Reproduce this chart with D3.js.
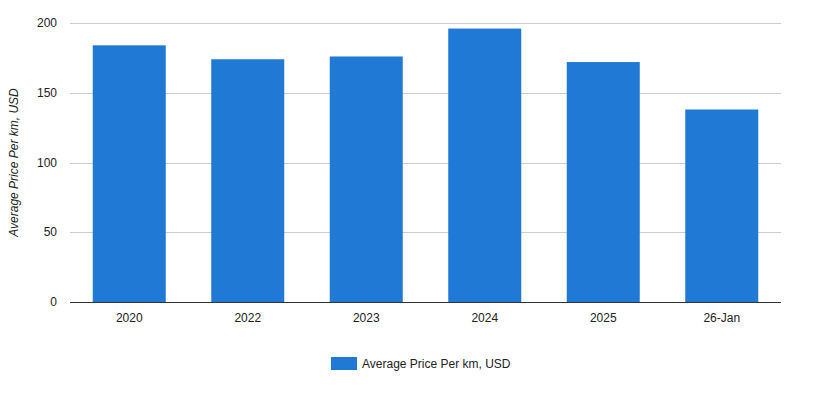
<!DOCTYPE html>
<html>
<head>
<meta charset="utf-8">
<script src="https://cdn.jsdelivr.net/npm/d3@7"></script>
<style>
  body { margin: 0; background: #fff; }
  svg { font-family: "Liberation Sans", Arial, sans-serif; }
</style>
</head>
<body>
<svg id="chart" width="825" height="393"></svg>
<script>
// chart data
var categories = ["2020", "2022", "2023", "2024", "2025", "26-Jan"];
var prices = [184, 174, 176, 196, 172, 138];
var yTicks = [0, 50, 100, 150, 200];
var seriesName = "Average Price Per km, USD";

var svg = d3.select("#chart");
// note: "top" clashes with window.top, so use plot* names
var plotLeft = 70, plotRight = 781, plotTop = 23, plotBottom = 302;

var x = d3.scaleBand()
    .domain(categories)
    .range([plotLeft, plotRight])
    .paddingInner(0.384)
    .paddingOuter(0.192);

var y = d3.scaleLinear()
    .domain([0, 200])
    .range([plotBottom, plotTop]);

// gridlines
svg.append("g")
    .selectAll("line")
    .data(yTicks.filter(function(d) { return d > 0; }))
    .enter()
    .append("line")
    .attr("x1", plotLeft).attr("x2", plotRight)
    .attr("y1", function(d) { return Math.round(y(d)) + 0.5; })
    .attr("y2", function(d) { return Math.round(y(d)) + 0.5; })
    .attr("stroke", "#cccccc");

// y tick labels
svg.append("g")
    .selectAll("text")
    .data(yTicks)
    .enter()
    .append("text")
    .attr("x", plotLeft - 13)
    .attr("y", function(d) { return y(d) + 4; })
    .attr("text-anchor", "end")
    .attr("font-size", 12)
    .attr("fill", "#222")
    .text(function(d) { return d; });

// bars
svg.append("g")
    .selectAll("rect")
    .data(prices)
    .enter()
    .append("rect")
    .attr("x", function(d, i) { return x(categories[i]); })
    .attr("y", function(d) { return y(d); })
    .attr("width", x.bandwidth())
    .attr("height", function(d) { return plotBottom - y(d); })
    .attr("fill", "#2079d4");

// baseline
svg.append("line")
    .attr("x1", plotLeft).attr("x2", plotRight)
    .attr("y1", plotBottom + 0.5).attr("y2", plotBottom + 0.5)
    .attr("stroke", "#333");

// x axis labels
var xAxis = d3.axisBottom(x).tickSize(0).tickPadding(10);
var gx = svg.append("g")
    .attr("transform", "translate(0," + (plotBottom + 1) + ")")
    .call(xAxis);
gx.select(".domain").remove();
gx.selectAll("text")
    .attr("font-size", 12)
    .attr("font-family", "Liberation Sans, Arial, sans-serif")
    .attr("fill", "#222");

// y axis title
svg.append("text")
    .attr("transform", "translate(18," + ((plotTop + plotBottom) / 2) + ") rotate(-90)")
    .attr("text-anchor", "middle")
    .attr("font-size", 12)
    .attr("font-style", "italic")
    .attr("fill", "#222")
    .text(seriesName);

// legend
var legend = svg.append("g");
legend.append("rect")
    .attr("x", 331).attr("y", 357)
    .attr("width", 26).attr("height", 13)
    .attr("fill", "#2079d4");
legend.append("text")
    .attr("x", 362).attr("y", 368)
    .attr("font-size", 12)
    .attr("fill", "#222")
    .text(seriesName);
</script>
</body>
</html>
